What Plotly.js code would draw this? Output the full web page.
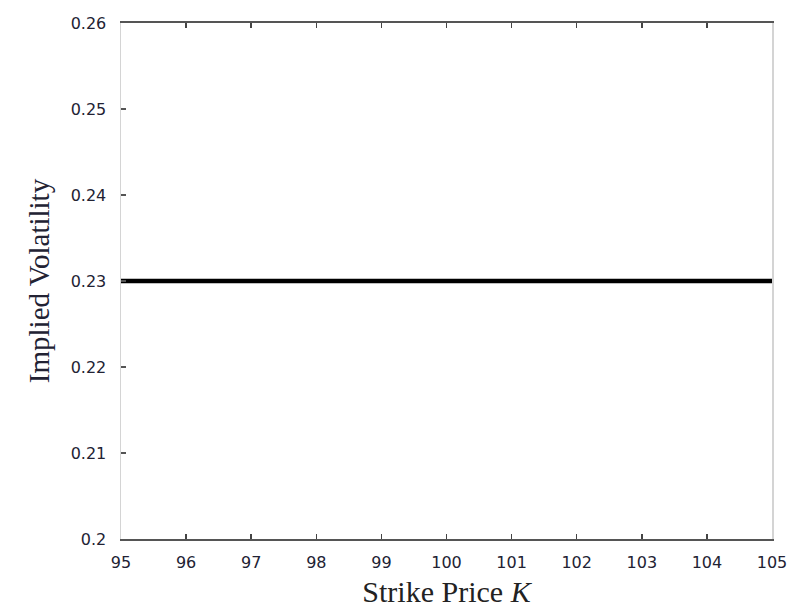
<!DOCTYPE html>
<html><head><meta charset="utf-8">
<script src="https://cdn.plot.ly/plotly-3.0.1.min.js"></script>
<style>body{margin:0;background:#fff}#c{width:790px;height:613px}</style>
</head><body><div id="c"></div>
<script>
const strikes = [95, 96, 97, 98, 99, 100, 101, 102, 103, 104, 105];
const impliedVol = [0.23, 0.23, 0.23, 0.23, 0.23, 0.23, 0.23, 0.23, 0.23, 0.23, 0.23];
const xTicks = [95, 96, 97, 98, 99, 100, 101, 102, 103, 104, 105];
const yTicks = [0.2, 0.21, 0.22, 0.23, 0.24, 0.25, 0.26];

Plotly.newPlot('c', [{
  x: strikes, y: impliedVol, mode: 'lines', type: 'scatter',
  line: {color: '#000', width: 4.5}, showlegend: false, hoverinfo: 'skip'
}], {
  width: 790, height: 613,
  margin: {l: 121, r: 18, t: 23, b: 74},
  paper_bgcolor: '#fff', plot_bgcolor: '#fff',
  xaxis: {
    range: [95, 105], tickvals: xTicks, ticktext: xTicks.map(String),
    showgrid: false, zeroline: false,
    showline: true, linecolor: '#555', linewidth: 2, mirror: 'ticks',
    ticks: 'inside', ticklen: 5, tickwidth: 1.5, tickcolor: '#444',
    ticklabelstandoff: 8,
    tickfont: {family: 'DejaVu Sans, sans-serif', size: 16, color: '#223'},
    title: {text: 'Strike Price <i>K</i>', font: {family: 'Liberation Serif, Times New Roman, serif', size: 30, color: '#222'}, standoff: 10}
  },
  yaxis: {
    range: [0.2, 0.26], tickvals: yTicks, ticktext: yTicks.map(v => String(v)),
    showgrid: false, zeroline: false,
    showline: true, linecolor: '#d4d4d4', linewidth: 1.5, mirror: true,
    ticks: 'inside', ticklen: 5, tickwidth: 1.5, tickcolor: '#555',
    ticklabelstandoff: 10,
    tickfont: {family: 'DejaVu Sans, sans-serif', size: 16, color: '#223'},
    title: {text: 'Implied Volatility', font: {family: 'Liberation Serif, Times New Roman, serif', size: 29, color: '#223'}, standoff: 12}
  }
}, {staticPlot: true});
</script></body></html>
